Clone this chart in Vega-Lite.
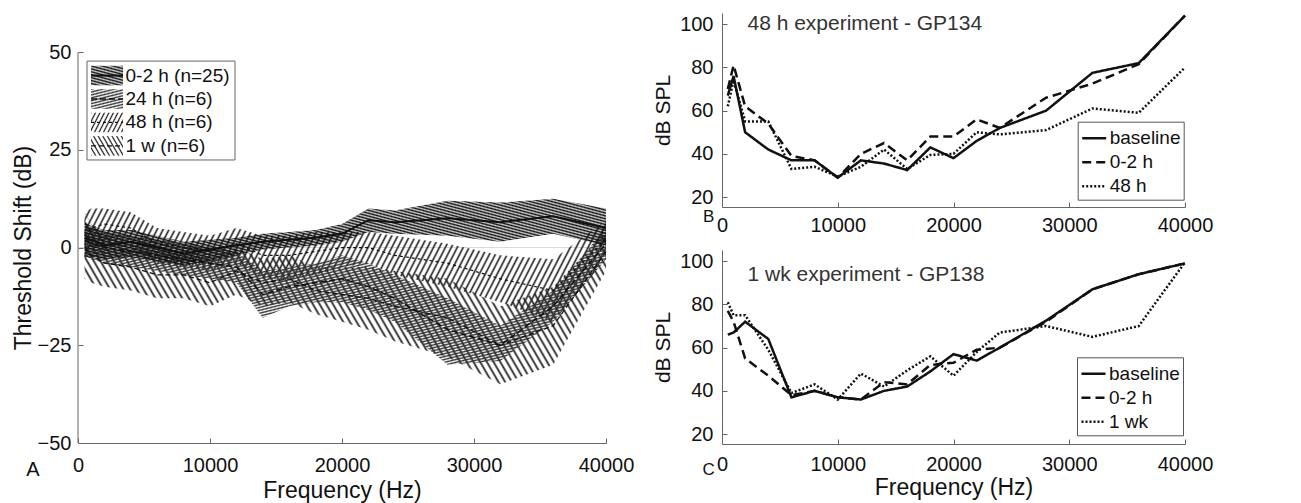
{
"$schema": "https://vega.github.io/schema/vega-lite/v6.json",
"background": "white",
"padding": {"left": 12, "top": 10, "right": 5, "bottom": 2},
"config": {
  "font": "Liberation Sans",
  "view": {"stroke": null},
  "axis": {"labelFontSize": 20, "labelColor": "#111", "titleFontSize": 23, "titleFontWeight": "normal", "titleColor": "#111", "domainColor": "#666", "tickColor": "#666", "tickSize": -5, "grid": false, "labelFlush": false, "labelOverlap": false}
},
"datasets": {
  "bands": [
    {"group":"0-2 h","freq":500,"mean":2.5,"lo":-2.5,"hi":6.5},
    {"group":"0-2 h","freq":1000,"mean":2,"lo":-2.5,"hi":5.5},
    {"group":"0-2 h","freq":2000,"mean":0.5,"lo":-3,"hi":4.5},
    {"group":"0-2 h","freq":4000,"mean":1.5,"lo":-2.5,"hi":4.5},
    {"group":"0-2 h","freq":6000,"mean":0,"lo":-3.5,"hi":3},
    {"group":"0-2 h","freq":8000,"mean":-1.5,"lo":-4.5,"hi":1.5},
    {"group":"0-2 h","freq":10000,"mean":-0.5,"lo":-3.5,"hi":2},
    {"group":"0-2 h","freq":12000,"mean":0.5,"lo":-2,"hi":2.5},
    {"group":"0-2 h","freq":14000,"mean":1.5,"lo":-0.5,"hi":3.5},
    {"group":"0-2 h","freq":16000,"mean":2,"lo":0,"hi":4},
    {"group":"0-2 h","freq":18000,"mean":2.5,"lo":0.5,"hi":4.5},
    {"group":"0-2 h","freq":20000,"mean":3.5,"lo":1.5,"hi":6},
    {"group":"0-2 h","freq":22000,"mean":7,"lo":4,"hi":10},
    {"group":"0-2 h","freq":24000,"mean":6.5,"lo":3.5,"hi":9.5},
    {"group":"0-2 h","freq":28000,"mean":7.5,"lo":3,"hi":12},
    {"group":"0-2 h","freq":32000,"mean":6.5,"lo":1.5,"hi":11.5},
    {"group":"0-2 h","freq":36000,"mean":8,"lo":3.5,"hi":12.5},
    {"group":"0-2 h","freq":40000,"mean":5,"lo":0.5,"hi":10},
    {"group":"24 h","freq":500,"mean":2,"lo":-2,"hi":6},
    {"group":"24 h","freq":1000,"mean":1,"lo":-3,"hi":5},
    {"group":"24 h","freq":2000,"mean":0,"lo":-4,"hi":4},
    {"group":"24 h","freq":4000,"mean":-1,"lo":-5,"hi":3},
    {"group":"24 h","freq":6000,"mean":-2,"lo":-6,"hi":2},
    {"group":"24 h","freq":8000,"mean":-3,"lo":-7,"hi":1},
    {"group":"24 h","freq":10000,"mean":-4,"lo":-8,"hi":0},
    {"group":"24 h","freq":12000,"mean":-5,"lo":-9,"hi":-1},
    {"group":"24 h","freq":14000,"mean":-12,"lo":-18,"hi":-6},
    {"group":"24 h","freq":16000,"mean":-10,"lo":-15,"hi":-5},
    {"group":"24 h","freq":18000,"mean":-9,"lo":-14,"hi":-4},
    {"group":"24 h","freq":20000,"mean":-8,"lo":-14,"hi":-2},
    {"group":"24 h","freq":22000,"mean":-10,"lo":-16,"hi":-4},
    {"group":"24 h","freq":24000,"mean":-13,"lo":-19,"hi":-7},
    {"group":"24 h","freq":28000,"mean":-21,"lo":-30,"hi":-13},
    {"group":"24 h","freq":32000,"mean":-25,"lo":-29,"hi":-20},
    {"group":"24 h","freq":36000,"mean":-15,"lo":-19,"hi":-11},
    {"group":"24 h","freq":40000,"mean":1,"lo":-3,"hi":5},
    {"group":"48 h","freq":500,"mean":3,"lo":-4,"hi":9},
    {"group":"48 h","freq":1000,"mean":5,"lo":-1,"hi":10},
    {"group":"48 h","freq":2000,"mean":6,"lo":1,"hi":10},
    {"group":"48 h","freq":4000,"mean":5,"lo":0,"hi":9},
    {"group":"48 h","freq":6000,"mean":1,"lo":-4,"hi":5},
    {"group":"48 h","freq":8000,"mean":0,"lo":-5,"hi":4},
    {"group":"48 h","freq":10000,"mean":-1,"lo":-6,"hi":3},
    {"group":"48 h","freq":12000,"mean":1,"lo":-4,"hi":5},
    {"group":"48 h","freq":14000,"mean":-2,"lo":-8,"hi":3},
    {"group":"48 h","freq":16000,"mean":-2,"lo":-8,"hi":3},
    {"group":"48 h","freq":18000,"mean":-1,"lo":-7,"hi":4},
    {"group":"48 h","freq":20000,"mean":0,"lo":-5,"hi":4},
    {"group":"48 h","freq":22000,"mean":0,"lo":-4,"hi":4},
    {"group":"48 h","freq":24000,"mean":-2,"lo":-7,"hi":3},
    {"group":"48 h","freq":28000,"mean":-4,"lo":-10,"hi":1},
    {"group":"48 h","freq":32000,"mean":-8,"lo":-14,"hi":-2},
    {"group":"48 h","freq":36000,"mean":-11,"lo":-19,"hi":-3},
    {"group":"48 h","freq":40000,"mean":2,"lo":-3,"hi":7},
    {"group":"1 w","freq":500,"mean":0,"lo":-8,"hi":9},
    {"group":"1 w","freq":1000,"mean":-2,"lo":-9,"hi":6},
    {"group":"1 w","freq":2000,"mean":-4,"lo":-10,"hi":3},
    {"group":"1 w","freq":4000,"mean":-5,"lo":-11,"hi":1},
    {"group":"1 w","freq":6000,"mean":-7,"lo":-13,"hi":-1},
    {"group":"1 w","freq":8000,"mean":-7,"lo":-13,"hi":-1},
    {"group":"1 w","freq":10000,"mean":-9,"lo":-15,"hi":-3},
    {"group":"1 w","freq":12000,"mean":-6,"lo":-12,"hi":0},
    {"group":"1 w","freq":14000,"mean":-9,"lo":-15,"hi":-3},
    {"group":"1 w","freq":16000,"mean":-8,"lo":-14,"hi":-2},
    {"group":"1 w","freq":18000,"mean":-11,"lo":-17,"hi":-5},
    {"group":"1 w","freq":20000,"mean":-12,"lo":-19,"hi":-5},
    {"group":"1 w","freq":22000,"mean":-13,"lo":-21,"hi":-5},
    {"group":"1 w","freq":24000,"mean":-15,"lo":-24,"hi":-6},
    {"group":"1 w","freq":28000,"mean":-18,"lo":-28,"hi":-8},
    {"group":"1 w","freq":32000,"mean":-25,"lo":-35,"hi":-15},
    {"group":"1 w","freq":36000,"mean":-20,"lo":-30,"hi":-10},
    {"group":"1 w","freq":40000,"mean":-1,"lo":-6,"hi":4}
  ],
  "abr": [
    {"panel":"B","series":"baseline","freq":500,"db":67},
    {"panel":"B","series":"baseline","freq":1000,"db":76},
    {"panel":"B","series":"baseline","freq":2000,"db":50},
    {"panel":"B","series":"baseline","freq":4000,"db":42},
    {"panel":"B","series":"baseline","freq":6000,"db":37},
    {"panel":"B","series":"baseline","freq":8000,"db":37},
    {"panel":"B","series":"baseline","freq":10000,"db":29},
    {"panel":"B","series":"baseline","freq":12000,"db":37},
    {"panel":"B","series":"baseline","freq":14000,"db":35.5},
    {"panel":"B","series":"baseline","freq":16000,"db":32.5},
    {"panel":"B","series":"baseline","freq":18000,"db":43},
    {"panel":"B","series":"baseline","freq":20000,"db":38},
    {"panel":"B","series":"baseline","freq":22000,"db":46},
    {"panel":"B","series":"baseline","freq":24000,"db":52},
    {"panel":"B","series":"baseline","freq":28000,"db":60},
    {"panel":"B","series":"baseline","freq":32000,"db":77.5},
    {"panel":"B","series":"baseline","freq":36000,"db":82},
    {"panel":"B","series":"baseline","freq":40000,"db":104},
    {"panel":"B","series":"0-2 h","freq":500,"db":70},
    {"panel":"B","series":"0-2 h","freq":1000,"db":81},
    {"panel":"B","series":"0-2 h","freq":2000,"db":62},
    {"panel":"B","series":"0-2 h","freq":4000,"db":54},
    {"panel":"B","series":"0-2 h","freq":6000,"db":39},
    {"panel":"B","series":"0-2 h","freq":8000,"db":37},
    {"panel":"B","series":"0-2 h","freq":10000,"db":29},
    {"panel":"B","series":"0-2 h","freq":12000,"db":40},
    {"panel":"B","series":"0-2 h","freq":14000,"db":45},
    {"panel":"B","series":"0-2 h","freq":16000,"db":37},
    {"panel":"B","series":"0-2 h","freq":18000,"db":48},
    {"panel":"B","series":"0-2 h","freq":20000,"db":48},
    {"panel":"B","series":"0-2 h","freq":22000,"db":56},
    {"panel":"B","series":"0-2 h","freq":24000,"db":52},
    {"panel":"B","series":"0-2 h","freq":28000,"db":66},
    {"panel":"B","series":"0-2 h","freq":32000,"db":72.5},
    {"panel":"B","series":"0-2 h","freq":36000,"db":81.5},
    {"panel":"B","series":"0-2 h","freq":40000,"db":104},
    {"panel":"B","series":"48 h","freq":500,"db":62},
    {"panel":"B","series":"48 h","freq":1000,"db":74},
    {"panel":"B","series":"48 h","freq":2000,"db":55},
    {"panel":"B","series":"48 h","freq":4000,"db":55},
    {"panel":"B","series":"48 h","freq":6000,"db":33},
    {"panel":"B","series":"48 h","freq":8000,"db":34},
    {"panel":"B","series":"48 h","freq":10000,"db":29.5},
    {"panel":"B","series":"48 h","freq":12000,"db":34},
    {"panel":"B","series":"48 h","freq":14000,"db":42},
    {"panel":"B","series":"48 h","freq":16000,"db":33},
    {"panel":"B","series":"48 h","freq":18000,"db":39.5},
    {"panel":"B","series":"48 h","freq":20000,"db":40},
    {"panel":"B","series":"48 h","freq":22000,"db":50},
    {"panel":"B","series":"48 h","freq":24000,"db":49},
    {"panel":"B","series":"48 h","freq":28000,"db":51},
    {"panel":"B","series":"48 h","freq":32000,"db":61},
    {"panel":"B","series":"48 h","freq":36000,"db":59},
    {"panel":"B","series":"48 h","freq":40000,"db":80},
    {"panel":"C","series":"baseline","freq":500,"db":66},
    {"panel":"C","series":"baseline","freq":1000,"db":67},
    {"panel":"C","series":"baseline","freq":2000,"db":72},
    {"panel":"C","series":"baseline","freq":4000,"db":64},
    {"panel":"C","series":"baseline","freq":6000,"db":37},
    {"panel":"C","series":"baseline","freq":8000,"db":40},
    {"panel":"C","series":"baseline","freq":10000,"db":37},
    {"panel":"C","series":"baseline","freq":12000,"db":36},
    {"panel":"C","series":"baseline","freq":14000,"db":40},
    {"panel":"C","series":"baseline","freq":16000,"db":42},
    {"panel":"C","series":"baseline","freq":18000,"db":49},
    {"panel":"C","series":"baseline","freq":20000,"db":57},
    {"panel":"C","series":"baseline","freq":22000,"db":54},
    {"panel":"C","series":"baseline","freq":24000,"db":60},
    {"panel":"C","series":"baseline","freq":28000,"db":72.5},
    {"panel":"C","series":"baseline","freq":32000,"db":87},
    {"panel":"C","series":"baseline","freq":36000,"db":94},
    {"panel":"C","series":"baseline","freq":40000,"db":99},
    {"panel":"C","series":"0-2 h","freq":500,"db":77},
    {"panel":"C","series":"0-2 h","freq":1000,"db":72},
    {"panel":"C","series":"0-2 h","freq":2000,"db":55},
    {"panel":"C","series":"0-2 h","freq":4000,"db":47},
    {"panel":"C","series":"0-2 h","freq":6000,"db":38},
    {"panel":"C","series":"0-2 h","freq":8000,"db":40},
    {"panel":"C","series":"0-2 h","freq":10000,"db":37},
    {"panel":"C","series":"0-2 h","freq":12000,"db":36},
    {"panel":"C","series":"0-2 h","freq":14000,"db":44},
    {"panel":"C","series":"0-2 h","freq":16000,"db":43},
    {"panel":"C","series":"0-2 h","freq":18000,"db":52},
    {"panel":"C","series":"0-2 h","freq":20000,"db":53},
    {"panel":"C","series":"0-2 h","freq":22000,"db":59},
    {"panel":"C","series":"0-2 h","freq":24000,"db":60},
    {"panel":"C","series":"0-2 h","freq":28000,"db":72},
    {"panel":"C","series":"0-2 h","freq":32000,"db":87},
    {"panel":"C","series":"0-2 h","freq":36000,"db":94},
    {"panel":"C","series":"0-2 h","freq":40000,"db":99},
    {"panel":"C","series":"1 wk","freq":500,"db":81},
    {"panel":"C","series":"1 wk","freq":1000,"db":75},
    {"panel":"C","series":"1 wk","freq":2000,"db":75},
    {"panel":"C","series":"1 wk","freq":4000,"db":59},
    {"panel":"C","series":"1 wk","freq":6000,"db":39},
    {"panel":"C","series":"1 wk","freq":8000,"db":43},
    {"panel":"C","series":"1 wk","freq":10000,"db":36},
    {"panel":"C","series":"1 wk","freq":12000,"db":48},
    {"panel":"C","series":"1 wk","freq":14000,"db":42},
    {"panel":"C","series":"1 wk","freq":16000,"db":49.5},
    {"panel":"C","series":"1 wk","freq":18000,"db":56},
    {"panel":"C","series":"1 wk","freq":20000,"db":47},
    {"panel":"C","series":"1 wk","freq":22000,"db":58},
    {"panel":"C","series":"1 wk","freq":24000,"db":67},
    {"panel":"C","series":"1 wk","freq":28000,"db":70},
    {"panel":"C","series":"1 wk","freq":32000,"db":65},
    {"panel":"C","series":"1 wk","freq":36000,"db":70},
    {"panel":"C","series":"1 wk","freq":40000,"db":99.5}
  ]
},
"spacing": 18,
"resolve": {"scale": {"strokeDash": "independent"}, "legend": {"strokeDash": "independent"}},
"hconcat": [
{
  "width": 528, "height": 430,
  "layer": [
    {"data": {"name": "bands"}, "transform": [{"filter": "datum.group === '1 w'"}],
     "mark": {"type": "area", "opacity": 1, "fill": {"gradient": "linear", "x1": 0, "y1": 1, "x2": 1.2395, "y2": 0.7639, "stops": [
{"offset":0,"color":"#222"},{"offset":0.003,"color":"#2220"},{"offset":0.007,"color":"#2220"},
{"offset":0.01,"color":"#222"},{"offset":0.013,"color":"#2220"},{"offset":0.017,"color":"#2220"},
{"offset":0.02,"color":"#222"},{"offset":0.023,"color":"#2220"},{"offset":0.027,"color":"#2220"},
{"offset":0.03,"color":"#222"},{"offset":0.033,"color":"#2220"},{"offset":0.037,"color":"#2220"},
{"offset":0.04,"color":"#222"},{"offset":0.043,"color":"#2220"},{"offset":0.047,"color":"#2220"},
{"offset":0.05,"color":"#222"},{"offset":0.053,"color":"#2220"},{"offset":0.057,"color":"#2220"},
{"offset":0.06,"color":"#222"},{"offset":0.063,"color":"#2220"},{"offset":0.067,"color":"#2220"},
{"offset":0.07,"color":"#222"},{"offset":0.073,"color":"#2220"},{"offset":0.077,"color":"#2220"},
{"offset":0.08,"color":"#222"},{"offset":0.083,"color":"#2220"},{"offset":0.087,"color":"#2220"},
{"offset":0.09,"color":"#222"},{"offset":0.093,"color":"#2220"},{"offset":0.097,"color":"#2220"},
{"offset":0.1,"color":"#222"},{"offset":0.103,"color":"#2220"},{"offset":0.107,"color":"#2220"},
{"offset":0.11,"color":"#222"},{"offset":0.113,"color":"#2220"},{"offset":0.117,"color":"#2220"},
{"offset":0.12,"color":"#222"},{"offset":0.123,"color":"#2220"},{"offset":0.127,"color":"#2220"},
{"offset":0.13,"color":"#222"},{"offset":0.133,"color":"#2220"},{"offset":0.137,"color":"#2220"},
{"offset":0.14,"color":"#222"},{"offset":0.143,"color":"#2220"},{"offset":0.147,"color":"#2220"},
{"offset":0.15,"color":"#222"},{"offset":0.153,"color":"#2220"},{"offset":0.157,"color":"#2220"},
{"offset":0.16,"color":"#222"},{"offset":0.163,"color":"#2220"},{"offset":0.167,"color":"#2220"},
{"offset":0.17,"color":"#222"},{"offset":0.173,"color":"#2220"},{"offset":0.177,"color":"#2220"},
{"offset":0.18,"color":"#222"},{"offset":0.183,"color":"#2220"},{"offset":0.187,"color":"#2220"},
{"offset":0.19,"color":"#222"},{"offset":0.193,"color":"#2220"},{"offset":0.197,"color":"#2220"},
{"offset":0.2,"color":"#222"},{"offset":0.203,"color":"#2220"},{"offset":0.207,"color":"#2220"},
{"offset":0.21,"color":"#222"},{"offset":0.213,"color":"#2220"},{"offset":0.217,"color":"#2220"},
{"offset":0.22,"color":"#222"},{"offset":0.223,"color":"#2220"},{"offset":0.227,"color":"#2220"},
{"offset":0.23,"color":"#222"},{"offset":0.233,"color":"#2220"},{"offset":0.237,"color":"#2220"},
{"offset":0.24,"color":"#222"},{"offset":0.243,"color":"#2220"},{"offset":0.247,"color":"#2220"},
{"offset":0.25,"color":"#222"},{"offset":0.253,"color":"#2220"},{"offset":0.257,"color":"#2220"},
{"offset":0.26,"color":"#222"},{"offset":0.263,"color":"#2220"},{"offset":0.267,"color":"#2220"},
{"offset":0.27,"color":"#222"},{"offset":0.273,"color":"#2220"},{"offset":0.277,"color":"#2220"},
{"offset":0.28,"color":"#222"},{"offset":0.283,"color":"#2220"},{"offset":0.287,"color":"#2220"},
{"offset":0.29,"color":"#222"},{"offset":0.293,"color":"#2220"},{"offset":0.297,"color":"#2220"},
{"offset":0.3,"color":"#222"},{"offset":0.303,"color":"#2220"},{"offset":0.307,"color":"#2220"},
{"offset":0.31,"color":"#222"},{"offset":0.313,"color":"#2220"},{"offset":0.317,"color":"#2220"},
{"offset":0.32,"color":"#222"},{"offset":0.323,"color":"#2220"},{"offset":0.327,"color":"#2220"},
{"offset":0.33,"color":"#222"},{"offset":0.333,"color":"#2220"},{"offset":0.337,"color":"#2220"},
{"offset":0.34,"color":"#222"},{"offset":0.343,"color":"#2220"},{"offset":0.347,"color":"#2220"},
{"offset":0.35,"color":"#222"},{"offset":0.353,"color":"#2220"},{"offset":0.357,"color":"#2220"},
{"offset":0.36,"color":"#222"},{"offset":0.363,"color":"#2220"},{"offset":0.367,"color":"#2220"},
{"offset":0.37,"color":"#222"},{"offset":0.373,"color":"#2220"},{"offset":0.377,"color":"#2220"},
{"offset":0.38,"color":"#222"},{"offset":0.383,"color":"#2220"},{"offset":0.387,"color":"#2220"},
{"offset":0.39,"color":"#222"},{"offset":0.393,"color":"#2220"},{"offset":0.397,"color":"#2220"},
{"offset":0.4,"color":"#222"},{"offset":0.403,"color":"#2220"},{"offset":0.407,"color":"#2220"},
{"offset":0.41,"color":"#222"},{"offset":0.413,"color":"#2220"},{"offset":0.417,"color":"#2220"},
{"offset":0.42,"color":"#222"},{"offset":0.423,"color":"#2220"},{"offset":0.427,"color":"#2220"},
{"offset":0.43,"color":"#222"},{"offset":0.433,"color":"#2220"},{"offset":0.437,"color":"#2220"},
{"offset":0.44,"color":"#222"},{"offset":0.443,"color":"#2220"},{"offset":0.447,"color":"#2220"},
{"offset":0.45,"color":"#222"},{"offset":0.453,"color":"#2220"},{"offset":0.457,"color":"#2220"},
{"offset":0.46,"color":"#222"},{"offset":0.463,"color":"#2220"},{"offset":0.467,"color":"#2220"},
{"offset":0.47,"color":"#222"},{"offset":0.473,"color":"#2220"},{"offset":0.477,"color":"#2220"},
{"offset":0.48,"color":"#222"},{"offset":0.483,"color":"#2220"},{"offset":0.487,"color":"#2220"},
{"offset":0.49,"color":"#222"},{"offset":0.493,"color":"#2220"},{"offset":0.497,"color":"#2220"},
{"offset":0.5,"color":"#222"},{"offset":0.503,"color":"#2220"},{"offset":0.507,"color":"#2220"},
{"offset":0.51,"color":"#222"},{"offset":0.513,"color":"#2220"},{"offset":0.517,"color":"#2220"},
{"offset":0.52,"color":"#222"},{"offset":0.523,"color":"#2220"},{"offset":0.527,"color":"#2220"},
{"offset":0.53,"color":"#222"},{"offset":0.533,"color":"#2220"},{"offset":0.537,"color":"#2220"},
{"offset":0.54,"color":"#222"},{"offset":0.543,"color":"#2220"},{"offset":0.547,"color":"#2220"},
{"offset":0.55,"color":"#222"},{"offset":0.553,"color":"#2220"},{"offset":0.557,"color":"#2220"},
{"offset":0.56,"color":"#222"},{"offset":0.563,"color":"#2220"},{"offset":0.567,"color":"#2220"},
{"offset":0.57,"color":"#222"},{"offset":0.573,"color":"#2220"},{"offset":0.577,"color":"#2220"},
{"offset":0.58,"color":"#222"},{"offset":0.583,"color":"#2220"},{"offset":0.587,"color":"#2220"},
{"offset":0.59,"color":"#222"},{"offset":0.593,"color":"#2220"},{"offset":0.597,"color":"#2220"},
{"offset":0.6,"color":"#222"},{"offset":0.603,"color":"#2220"},{"offset":0.607,"color":"#2220"},
{"offset":0.61,"color":"#222"},{"offset":0.613,"color":"#2220"},{"offset":0.617,"color":"#2220"},
{"offset":0.62,"color":"#222"},{"offset":0.623,"color":"#2220"},{"offset":0.627,"color":"#2220"},
{"offset":0.63,"color":"#222"},{"offset":0.633,"color":"#2220"},{"offset":0.637,"color":"#2220"},
{"offset":0.64,"color":"#222"},{"offset":0.643,"color":"#2220"},{"offset":0.647,"color":"#2220"},
{"offset":0.65,"color":"#222"},{"offset":0.653,"color":"#2220"},{"offset":0.657,"color":"#2220"},
{"offset":0.66,"color":"#222"},{"offset":0.663,"color":"#2220"},{"offset":0.667,"color":"#2220"},
{"offset":0.67,"color":"#222"},{"offset":0.673,"color":"#2220"},{"offset":0.677,"color":"#2220"},
{"offset":0.68,"color":"#222"},{"offset":0.683,"color":"#2220"},{"offset":0.687,"color":"#2220"},
{"offset":0.69,"color":"#222"},{"offset":0.693,"color":"#2220"},{"offset":0.697,"color":"#2220"},
{"offset":0.7,"color":"#222"},{"offset":0.703,"color":"#2220"},{"offset":0.707,"color":"#2220"},
{"offset":0.71,"color":"#222"},{"offset":0.713,"color":"#2220"},{"offset":0.717,"color":"#2220"},
{"offset":0.72,"color":"#222"},{"offset":0.723,"color":"#2220"},{"offset":0.727,"color":"#2220"},
{"offset":0.73,"color":"#222"},{"offset":0.733,"color":"#2220"},{"offset":0.737,"color":"#2220"},
{"offset":0.74,"color":"#222"},{"offset":0.743,"color":"#2220"},{"offset":0.747,"color":"#2220"},
{"offset":0.75,"color":"#222"},{"offset":0.753,"color":"#2220"},{"offset":0.757,"color":"#2220"},
{"offset":0.76,"color":"#222"},{"offset":0.763,"color":"#2220"},{"offset":0.767,"color":"#2220"},
{"offset":0.77,"color":"#222"},{"offset":0.773,"color":"#2220"},{"offset":0.777,"color":"#2220"},
{"offset":0.78,"color":"#222"},{"offset":0.783,"color":"#2220"},{"offset":0.787,"color":"#2220"},
{"offset":0.79,"color":"#222"},{"offset":0.793,"color":"#2220"},{"offset":0.797,"color":"#2220"},
{"offset":0.8,"color":"#222"},{"offset":0.803,"color":"#2220"},{"offset":0.807,"color":"#2220"},
{"offset":0.81,"color":"#222"},{"offset":0.813,"color":"#2220"},{"offset":0.817,"color":"#2220"},
{"offset":0.82,"color":"#222"},{"offset":0.823,"color":"#2220"},{"offset":0.827,"color":"#2220"},
{"offset":0.83,"color":"#222"},{"offset":0.833,"color":"#2220"},{"offset":0.837,"color":"#2220"},
{"offset":0.84,"color":"#222"},{"offset":0.843,"color":"#2220"},{"offset":0.847,"color":"#2220"},
{"offset":0.85,"color":"#222"},{"offset":0.853,"color":"#2220"},{"offset":0.857,"color":"#2220"},
{"offset":0.86,"color":"#222"},{"offset":0.863,"color":"#2220"},{"offset":0.867,"color":"#2220"},
{"offset":0.87,"color":"#222"},{"offset":0.873,"color":"#2220"},{"offset":0.877,"color":"#2220"},
{"offset":0.88,"color":"#222"},{"offset":0.883,"color":"#2220"},{"offset":0.887,"color":"#2220"},
{"offset":0.89,"color":"#222"},{"offset":0.893,"color":"#2220"},{"offset":0.897,"color":"#2220"},
{"offset":0.9,"color":"#222"},{"offset":0.903,"color":"#2220"},{"offset":0.907,"color":"#2220"},
{"offset":0.91,"color":"#222"},{"offset":0.913,"color":"#2220"},{"offset":0.917,"color":"#2220"},
{"offset":0.92,"color":"#222"},{"offset":0.923,"color":"#2220"},{"offset":0.927,"color":"#2220"},
{"offset":0.93,"color":"#222"}
     ]}},
     "encoding": {
       "x": {"field": "freq", "type": "quantitative", "scale": {"domain": [0, 40000], "nice": false},
             "axis": {"values": [0, 10000, 20000, 30000, 40000], "format": "d", "title": "Frequency (Hz)", "labelPadding": 17.5, "titleBaseline": "alphabetic", "titleY": 54}},
       "y": {"field": "lo", "type": "quantitative", "scale": {"domain": [-50, 60], "nice": false, "zero": false},
             "axis": {"values": [-50, -25, 0, 25, 50], "domain": false, "title": "Threshold Shift (dB)", "labelPadding": 12, "titleX": -48, "titleY": 234.5, "titleBaseline": "alphabetic"}},
       "y2": {"field": "hi"}
     }},
    {"data": {"values": [{}]}, "mark": {"type": "rule", "color": "#d9d9d9", "strokeWidth": 1},
     "encoding": {"x": {"datum": 0, "type": "quantitative"}, "x2": {"datum": 40000}, "y": {"datum": 0, "type": "quantitative"}}},
    {"data": {"name": "bands"}, "transform": [{"filter": "datum.group === '48 h'"}],
     "mark": {"type": "area", "opacity": 1, "fill": {"gradient": "linear", "x1": 0, "y1": 0, "x2": 1.1268, "y2": 0.1249, "stops": [
{"offset":0,"color":"#222"},{"offset":0.003,"color":"#2220"},{"offset":0.007,"color":"#2220"},
{"offset":0.01,"color":"#222"},{"offset":0.013,"color":"#2220"},{"offset":0.017,"color":"#2220"},
{"offset":0.02,"color":"#222"},{"offset":0.023,"color":"#2220"},{"offset":0.027,"color":"#2220"},
{"offset":0.03,"color":"#222"},{"offset":0.033,"color":"#2220"},{"offset":0.037,"color":"#2220"},
{"offset":0.04,"color":"#222"},{"offset":0.043,"color":"#2220"},{"offset":0.047,"color":"#2220"},
{"offset":0.05,"color":"#222"},{"offset":0.053,"color":"#2220"},{"offset":0.057,"color":"#2220"},
{"offset":0.06,"color":"#222"},{"offset":0.063,"color":"#2220"},{"offset":0.067,"color":"#2220"},
{"offset":0.07,"color":"#222"},{"offset":0.073,"color":"#2220"},{"offset":0.077,"color":"#2220"},
{"offset":0.08,"color":"#222"},{"offset":0.083,"color":"#2220"},{"offset":0.087,"color":"#2220"},
{"offset":0.09,"color":"#222"},{"offset":0.093,"color":"#2220"},{"offset":0.097,"color":"#2220"},
{"offset":0.1,"color":"#222"},{"offset":0.103,"color":"#2220"},{"offset":0.107,"color":"#2220"},
{"offset":0.11,"color":"#222"},{"offset":0.113,"color":"#2220"},{"offset":0.117,"color":"#2220"},
{"offset":0.12,"color":"#222"},{"offset":0.123,"color":"#2220"},{"offset":0.127,"color":"#2220"},
{"offset":0.13,"color":"#222"},{"offset":0.133,"color":"#2220"},{"offset":0.137,"color":"#2220"},
{"offset":0.14,"color":"#222"},{"offset":0.143,"color":"#2220"},{"offset":0.147,"color":"#2220"},
{"offset":0.15,"color":"#222"},{"offset":0.153,"color":"#2220"},{"offset":0.157,"color":"#2220"},
{"offset":0.16,"color":"#222"},{"offset":0.163,"color":"#2220"},{"offset":0.167,"color":"#2220"},
{"offset":0.17,"color":"#222"},{"offset":0.173,"color":"#2220"},{"offset":0.177,"color":"#2220"},
{"offset":0.18,"color":"#222"},{"offset":0.183,"color":"#2220"},{"offset":0.187,"color":"#2220"},
{"offset":0.19,"color":"#222"},{"offset":0.193,"color":"#2220"},{"offset":0.197,"color":"#2220"},
{"offset":0.2,"color":"#222"},{"offset":0.203,"color":"#2220"},{"offset":0.207,"color":"#2220"},
{"offset":0.21,"color":"#222"},{"offset":0.213,"color":"#2220"},{"offset":0.217,"color":"#2220"},
{"offset":0.22,"color":"#222"},{"offset":0.223,"color":"#2220"},{"offset":0.227,"color":"#2220"},
{"offset":0.23,"color":"#222"},{"offset":0.233,"color":"#2220"},{"offset":0.237,"color":"#2220"},
{"offset":0.24,"color":"#222"},{"offset":0.243,"color":"#2220"},{"offset":0.247,"color":"#2220"},
{"offset":0.25,"color":"#222"},{"offset":0.253,"color":"#2220"},{"offset":0.257,"color":"#2220"},
{"offset":0.26,"color":"#222"},{"offset":0.263,"color":"#2220"},{"offset":0.267,"color":"#2220"},
{"offset":0.27,"color":"#222"},{"offset":0.273,"color":"#2220"},{"offset":0.277,"color":"#2220"},
{"offset":0.28,"color":"#222"},{"offset":0.283,"color":"#2220"},{"offset":0.287,"color":"#2220"},
{"offset":0.29,"color":"#222"},{"offset":0.293,"color":"#2220"},{"offset":0.297,"color":"#2220"},
{"offset":0.3,"color":"#222"},{"offset":0.303,"color":"#2220"},{"offset":0.307,"color":"#2220"},
{"offset":0.31,"color":"#222"},{"offset":0.313,"color":"#2220"},{"offset":0.317,"color":"#2220"},
{"offset":0.32,"color":"#222"},{"offset":0.323,"color":"#2220"},{"offset":0.327,"color":"#2220"},
{"offset":0.33,"color":"#222"},{"offset":0.333,"color":"#2220"},{"offset":0.337,"color":"#2220"},
{"offset":0.34,"color":"#222"},{"offset":0.343,"color":"#2220"},{"offset":0.347,"color":"#2220"},
{"offset":0.35,"color":"#222"},{"offset":0.353,"color":"#2220"},{"offset":0.357,"color":"#2220"},
{"offset":0.36,"color":"#222"},{"offset":0.363,"color":"#2220"},{"offset":0.367,"color":"#2220"},
{"offset":0.37,"color":"#222"},{"offset":0.373,"color":"#2220"},{"offset":0.377,"color":"#2220"},
{"offset":0.38,"color":"#222"},{"offset":0.383,"color":"#2220"},{"offset":0.387,"color":"#2220"},
{"offset":0.39,"color":"#222"},{"offset":0.393,"color":"#2220"},{"offset":0.397,"color":"#2220"},
{"offset":0.4,"color":"#222"},{"offset":0.403,"color":"#2220"},{"offset":0.407,"color":"#2220"},
{"offset":0.41,"color":"#222"},{"offset":0.413,"color":"#2220"},{"offset":0.417,"color":"#2220"},
{"offset":0.42,"color":"#222"},{"offset":0.423,"color":"#2220"},{"offset":0.427,"color":"#2220"},
{"offset":0.43,"color":"#222"},{"offset":0.433,"color":"#2220"},{"offset":0.437,"color":"#2220"},
{"offset":0.44,"color":"#222"},{"offset":0.443,"color":"#2220"},{"offset":0.447,"color":"#2220"},
{"offset":0.45,"color":"#222"},{"offset":0.453,"color":"#2220"},{"offset":0.457,"color":"#2220"},
{"offset":0.46,"color":"#222"},{"offset":0.463,"color":"#2220"},{"offset":0.467,"color":"#2220"},
{"offset":0.47,"color":"#222"},{"offset":0.473,"color":"#2220"},{"offset":0.477,"color":"#2220"},
{"offset":0.48,"color":"#222"},{"offset":0.483,"color":"#2220"},{"offset":0.487,"color":"#2220"},
{"offset":0.49,"color":"#222"},{"offset":0.493,"color":"#2220"},{"offset":0.497,"color":"#2220"},
{"offset":0.5,"color":"#222"},{"offset":0.503,"color":"#2220"},{"offset":0.507,"color":"#2220"},
{"offset":0.51,"color":"#222"},{"offset":0.513,"color":"#2220"},{"offset":0.517,"color":"#2220"},
{"offset":0.52,"color":"#222"},{"offset":0.523,"color":"#2220"},{"offset":0.527,"color":"#2220"},
{"offset":0.53,"color":"#222"},{"offset":0.533,"color":"#2220"},{"offset":0.537,"color":"#2220"},
{"offset":0.54,"color":"#222"},{"offset":0.543,"color":"#2220"},{"offset":0.547,"color":"#2220"},
{"offset":0.55,"color":"#222"},{"offset":0.553,"color":"#2220"},{"offset":0.557,"color":"#2220"},
{"offset":0.56,"color":"#222"},{"offset":0.563,"color":"#2220"},{"offset":0.567,"color":"#2220"},
{"offset":0.57,"color":"#222"},{"offset":0.573,"color":"#2220"},{"offset":0.577,"color":"#2220"},
{"offset":0.58,"color":"#222"},{"offset":0.583,"color":"#2220"},{"offset":0.587,"color":"#2220"},
{"offset":0.59,"color":"#222"},{"offset":0.593,"color":"#2220"},{"offset":0.597,"color":"#2220"},
{"offset":0.6,"color":"#222"},{"offset":0.603,"color":"#2220"},{"offset":0.607,"color":"#2220"},
{"offset":0.61,"color":"#222"},{"offset":0.613,"color":"#2220"},{"offset":0.617,"color":"#2220"},
{"offset":0.62,"color":"#222"},{"offset":0.623,"color":"#2220"},{"offset":0.627,"color":"#2220"},
{"offset":0.63,"color":"#222"},{"offset":0.633,"color":"#2220"},{"offset":0.637,"color":"#2220"},
{"offset":0.64,"color":"#222"},{"offset":0.643,"color":"#2220"},{"offset":0.647,"color":"#2220"},
{"offset":0.65,"color":"#222"},{"offset":0.653,"color":"#2220"},{"offset":0.657,"color":"#2220"},
{"offset":0.66,"color":"#222"},{"offset":0.663,"color":"#2220"},{"offset":0.667,"color":"#2220"},
{"offset":0.67,"color":"#222"},{"offset":0.673,"color":"#2220"},{"offset":0.677,"color":"#2220"},
{"offset":0.68,"color":"#222"},{"offset":0.683,"color":"#2220"},{"offset":0.687,"color":"#2220"},
{"offset":0.69,"color":"#222"},{"offset":0.693,"color":"#2220"},{"offset":0.697,"color":"#2220"},
{"offset":0.7,"color":"#222"},{"offset":0.703,"color":"#2220"},{"offset":0.707,"color":"#2220"},
{"offset":0.71,"color":"#222"},{"offset":0.713,"color":"#2220"},{"offset":0.717,"color":"#2220"},
{"offset":0.72,"color":"#222"},{"offset":0.723,"color":"#2220"},{"offset":0.727,"color":"#2220"},
{"offset":0.73,"color":"#222"},{"offset":0.733,"color":"#2220"},{"offset":0.737,"color":"#2220"},
{"offset":0.74,"color":"#222"},{"offset":0.743,"color":"#2220"},{"offset":0.747,"color":"#2220"},
{"offset":0.75,"color":"#222"},{"offset":0.753,"color":"#2220"},{"offset":0.757,"color":"#2220"},
{"offset":0.76,"color":"#222"},{"offset":0.763,"color":"#2220"},{"offset":0.767,"color":"#2220"},
{"offset":0.77,"color":"#222"},{"offset":0.773,"color":"#2220"},{"offset":0.777,"color":"#2220"},
{"offset":0.78,"color":"#222"},{"offset":0.783,"color":"#2220"},{"offset":0.787,"color":"#2220"},
{"offset":0.79,"color":"#222"},{"offset":0.793,"color":"#2220"},{"offset":0.797,"color":"#2220"},
{"offset":0.8,"color":"#222"},{"offset":0.803,"color":"#2220"},{"offset":0.807,"color":"#2220"},
{"offset":0.81,"color":"#222"},{"offset":0.813,"color":"#2220"},{"offset":0.817,"color":"#2220"},
{"offset":0.82,"color":"#222"},{"offset":0.823,"color":"#2220"},{"offset":0.827,"color":"#2220"},
{"offset":0.83,"color":"#222"},{"offset":0.833,"color":"#2220"},{"offset":0.837,"color":"#2220"},
{"offset":0.84,"color":"#222"},{"offset":0.843,"color":"#2220"},{"offset":0.847,"color":"#2220"},
{"offset":0.85,"color":"#222"},{"offset":0.853,"color":"#2220"},{"offset":0.857,"color":"#2220"},
{"offset":0.86,"color":"#222"},{"offset":0.863,"color":"#2220"},{"offset":0.867,"color":"#2220"},
{"offset":0.87,"color":"#222"},{"offset":0.873,"color":"#2220"},{"offset":0.877,"color":"#2220"},
{"offset":0.88,"color":"#222"},{"offset":0.883,"color":"#2220"},{"offset":0.887,"color":"#2220"},
{"offset":0.89,"color":"#222"},{"offset":0.893,"color":"#2220"},{"offset":0.897,"color":"#2220"},
{"offset":0.9,"color":"#222"},{"offset":0.903,"color":"#2220"},{"offset":0.907,"color":"#2220"},
{"offset":0.91,"color":"#222"},{"offset":0.913,"color":"#2220"},{"offset":0.917,"color":"#2220"},
{"offset":0.92,"color":"#222"},{"offset":0.923,"color":"#2220"},{"offset":0.927,"color":"#2220"},
{"offset":0.93,"color":"#222"},{"offset":0.933,"color":"#2220"},{"offset":0.937,"color":"#2220"},
{"offset":0.94,"color":"#222"},{"offset":0.943,"color":"#2220"},{"offset":0.947,"color":"#2220"},
{"offset":0.95,"color":"#222"},{"offset":0.953,"color":"#2220"},{"offset":0.957,"color":"#2220"},
{"offset":0.96,"color":"#222"},{"offset":0.963,"color":"#2220"},{"offset":0.967,"color":"#2220"},
{"offset":0.97,"color":"#222"},{"offset":0.973,"color":"#2220"},{"offset":0.977,"color":"#2220"},
{"offset":0.98,"color":"#222"}
     ]}},
     "encoding": {"x": {"field": "freq", "type": "quantitative"}, "y": {"field": "lo", "type": "quantitative"}, "y2": {"field": "hi"}}},
    {"data": {"name": "bands"}, "transform": [{"filter": "datum.group === '24 h'"}],
     "mark": {"type": "area", "opacity": 1, "fill": {"gradient": "linear", "x1": 0, "y1": 0, "x2": 1.0225, "y2": 1.106, "stops": [
{"offset":0,"color":"#333"},{"offset":0.005,"color":"#3330"},{"offset":0.01,"color":"#333"},{"offset":0.015,"color":"#3330"},
{"offset":0.02,"color":"#333"},{"offset":0.025,"color":"#3330"},{"offset":0.03,"color":"#333"},{"offset":0.035,"color":"#3330"},
{"offset":0.04,"color":"#333"},{"offset":0.045,"color":"#3330"},{"offset":0.05,"color":"#333"},{"offset":0.055,"color":"#3330"},
{"offset":0.06,"color":"#333"},{"offset":0.065,"color":"#3330"},{"offset":0.07,"color":"#333"},{"offset":0.075,"color":"#3330"},
{"offset":0.08,"color":"#333"},{"offset":0.085,"color":"#3330"},{"offset":0.09,"color":"#333"},{"offset":0.095,"color":"#3330"},
{"offset":0.1,"color":"#333"},{"offset":0.105,"color":"#3330"},{"offset":0.11,"color":"#333"},{"offset":0.115,"color":"#3330"},
{"offset":0.12,"color":"#333"},{"offset":0.125,"color":"#3330"},{"offset":0.13,"color":"#333"},{"offset":0.135,"color":"#3330"},
{"offset":0.14,"color":"#333"},{"offset":0.145,"color":"#3330"},{"offset":0.15,"color":"#333"},{"offset":0.155,"color":"#3330"},
{"offset":0.16,"color":"#333"},{"offset":0.165,"color":"#3330"},{"offset":0.17,"color":"#333"},{"offset":0.175,"color":"#3330"},
{"offset":0.18,"color":"#333"},{"offset":0.185,"color":"#3330"},{"offset":0.19,"color":"#333"},{"offset":0.195,"color":"#3330"},
{"offset":0.2,"color":"#333"},{"offset":0.205,"color":"#3330"},{"offset":0.21,"color":"#333"},{"offset":0.215,"color":"#3330"},
{"offset":0.22,"color":"#333"},{"offset":0.225,"color":"#3330"},{"offset":0.23,"color":"#333"},{"offset":0.235,"color":"#3330"},
{"offset":0.24,"color":"#333"},{"offset":0.245,"color":"#3330"},{"offset":0.25,"color":"#333"},{"offset":0.255,"color":"#3330"},
{"offset":0.26,"color":"#333"},{"offset":0.265,"color":"#3330"},{"offset":0.27,"color":"#333"},{"offset":0.275,"color":"#3330"},
{"offset":0.28,"color":"#333"},{"offset":0.285,"color":"#3330"},{"offset":0.29,"color":"#333"},{"offset":0.295,"color":"#3330"},
{"offset":0.3,"color":"#333"},{"offset":0.305,"color":"#3330"},{"offset":0.31,"color":"#333"},{"offset":0.315,"color":"#3330"},
{"offset":0.32,"color":"#333"},{"offset":0.325,"color":"#3330"},{"offset":0.33,"color":"#333"},{"offset":0.335,"color":"#3330"},
{"offset":0.34,"color":"#333"},{"offset":0.345,"color":"#3330"},{"offset":0.35,"color":"#333"},{"offset":0.355,"color":"#3330"},
{"offset":0.36,"color":"#333"},{"offset":0.365,"color":"#3330"},{"offset":0.37,"color":"#333"},{"offset":0.375,"color":"#3330"},
{"offset":0.38,"color":"#333"},{"offset":0.385,"color":"#3330"},{"offset":0.39,"color":"#333"},{"offset":0.395,"color":"#3330"},
{"offset":0.4,"color":"#333"},{"offset":0.405,"color":"#3330"},{"offset":0.41,"color":"#333"},{"offset":0.415,"color":"#3330"},
{"offset":0.42,"color":"#333"},{"offset":0.425,"color":"#3330"},{"offset":0.43,"color":"#333"},{"offset":0.435,"color":"#3330"},
{"offset":0.44,"color":"#333"},{"offset":0.445,"color":"#3330"},{"offset":0.45,"color":"#333"},{"offset":0.455,"color":"#3330"},
{"offset":0.46,"color":"#333"},{"offset":0.465,"color":"#3330"},{"offset":0.47,"color":"#333"},{"offset":0.475,"color":"#3330"},
{"offset":0.48,"color":"#333"},{"offset":0.485,"color":"#3330"},{"offset":0.49,"color":"#333"},{"offset":0.495,"color":"#3330"},
{"offset":0.5,"color":"#333"},{"offset":0.505,"color":"#3330"},{"offset":0.51,"color":"#333"},{"offset":0.515,"color":"#3330"},
{"offset":0.52,"color":"#333"},{"offset":0.525,"color":"#3330"},{"offset":0.53,"color":"#333"},{"offset":0.535,"color":"#3330"},
{"offset":0.54,"color":"#333"},{"offset":0.545,"color":"#3330"},{"offset":0.55,"color":"#333"},{"offset":0.555,"color":"#3330"},
{"offset":0.56,"color":"#333"},{"offset":0.565,"color":"#3330"},{"offset":0.57,"color":"#333"},{"offset":0.575,"color":"#3330"},
{"offset":0.58,"color":"#333"},{"offset":0.585,"color":"#3330"},{"offset":0.59,"color":"#333"},{"offset":0.595,"color":"#3330"},
{"offset":0.6,"color":"#333"},{"offset":0.605,"color":"#3330"},{"offset":0.61,"color":"#333"},{"offset":0.615,"color":"#3330"},
{"offset":0.62,"color":"#333"},{"offset":0.625,"color":"#3330"},{"offset":0.63,"color":"#333"},{"offset":0.635,"color":"#3330"},
{"offset":0.64,"color":"#333"},{"offset":0.645,"color":"#3330"},{"offset":0.65,"color":"#333"},{"offset":0.655,"color":"#3330"},
{"offset":0.66,"color":"#333"},{"offset":0.665,"color":"#3330"},{"offset":0.67,"color":"#333"},{"offset":0.675,"color":"#3330"},
{"offset":0.68,"color":"#333"},{"offset":0.685,"color":"#3330"},{"offset":0.69,"color":"#333"},{"offset":0.695,"color":"#3330"},
{"offset":0.7,"color":"#333"},{"offset":0.705,"color":"#3330"},{"offset":0.71,"color":"#333"},{"offset":0.715,"color":"#3330"},
{"offset":0.72,"color":"#333"},{"offset":0.725,"color":"#3330"},{"offset":0.73,"color":"#333"},{"offset":0.735,"color":"#3330"},
{"offset":0.74,"color":"#333"},{"offset":0.745,"color":"#3330"},{"offset":0.75,"color":"#333"},{"offset":0.755,"color":"#3330"},
{"offset":0.76,"color":"#333"},{"offset":0.765,"color":"#3330"},{"offset":0.77,"color":"#333"},{"offset":0.775,"color":"#3330"},
{"offset":0.78,"color":"#333"},{"offset":0.785,"color":"#3330"},{"offset":0.79,"color":"#333"},{"offset":0.795,"color":"#3330"},
{"offset":0.8,"color":"#333"},{"offset":0.805,"color":"#3330"},{"offset":0.81,"color":"#333"},{"offset":0.815,"color":"#3330"},
{"offset":0.82,"color":"#333"},{"offset":0.825,"color":"#3330"},{"offset":0.83,"color":"#333"},{"offset":0.835,"color":"#3330"},
{"offset":0.84,"color":"#333"},{"offset":0.845,"color":"#3330"},{"offset":0.85,"color":"#333"},{"offset":0.855,"color":"#3330"},
{"offset":0.86,"color":"#333"},{"offset":0.865,"color":"#3330"},{"offset":0.87,"color":"#333"},{"offset":0.875,"color":"#3330"},
{"offset":0.88,"color":"#333"},{"offset":0.885,"color":"#3330"},{"offset":0.89,"color":"#333"},{"offset":0.895,"color":"#3330"},
{"offset":0.9,"color":"#333"},{"offset":0.905,"color":"#3330"},{"offset":0.91,"color":"#333"},{"offset":0.915,"color":"#3330"},
{"offset":0.92,"color":"#333"},{"offset":0.925,"color":"#3330"},{"offset":0.93,"color":"#333"},{"offset":0.935,"color":"#3330"},
{"offset":0.94,"color":"#333"},{"offset":0.945,"color":"#3330"},{"offset":0.95,"color":"#333"}
     ]}},
     "encoding": {"x": {"field": "freq", "type": "quantitative"}, "y": {"field": "lo", "type": "quantitative"}, "y2": {"field": "hi"}}},
    {"data": {"name": "bands"}, "transform": [{"filter": "datum.group === '0-2 h'"}],
     "mark": {"type": "area", "opacity": 1, "fill": {"gradient": "linear", "x1": 1, "y1": 0, "x2": -0.69, "y2": 0.804, "stops": [
{"offset":0,"color":"#111"},{"offset":0.005,"color":"#1113"},{"offset":0.01,"color":"#111"},{"offset":0.015,"color":"#1113"},
{"offset":0.02,"color":"#111"},{"offset":0.025,"color":"#1113"},{"offset":0.03,"color":"#111"},{"offset":0.035,"color":"#1113"},
{"offset":0.04,"color":"#111"},{"offset":0.045,"color":"#1113"},{"offset":0.05,"color":"#111"},{"offset":0.055,"color":"#1113"},
{"offset":0.06,"color":"#111"},{"offset":0.065,"color":"#1113"},{"offset":0.07,"color":"#111"},{"offset":0.075,"color":"#1113"},
{"offset":0.08,"color":"#111"},{"offset":0.085,"color":"#1113"},{"offset":0.09,"color":"#111"},{"offset":0.095,"color":"#1113"},
{"offset":0.1,"color":"#111"},{"offset":0.105,"color":"#1113"},{"offset":0.11,"color":"#111"},{"offset":0.115,"color":"#1113"},
{"offset":0.12,"color":"#111"},{"offset":0.125,"color":"#1113"},{"offset":0.13,"color":"#111"},{"offset":0.135,"color":"#1113"},
{"offset":0.14,"color":"#111"},{"offset":0.145,"color":"#1113"},{"offset":0.15,"color":"#111"},{"offset":0.155,"color":"#1113"},
{"offset":0.16,"color":"#111"},{"offset":0.165,"color":"#1113"},{"offset":0.17,"color":"#111"},{"offset":0.175,"color":"#1113"},
{"offset":0.18,"color":"#111"},{"offset":0.185,"color":"#1113"},{"offset":0.19,"color":"#111"},{"offset":0.195,"color":"#1113"},
{"offset":0.2,"color":"#111"},{"offset":0.205,"color":"#1113"},{"offset":0.21,"color":"#111"},{"offset":0.215,"color":"#1113"},
{"offset":0.22,"color":"#111"},{"offset":0.225,"color":"#1113"},{"offset":0.23,"color":"#111"},{"offset":0.235,"color":"#1113"},
{"offset":0.24,"color":"#111"},{"offset":0.245,"color":"#1113"},{"offset":0.25,"color":"#111"},{"offset":0.255,"color":"#1113"},
{"offset":0.26,"color":"#111"},{"offset":0.265,"color":"#1113"},{"offset":0.27,"color":"#111"},{"offset":0.275,"color":"#1113"},
{"offset":0.28,"color":"#111"},{"offset":0.285,"color":"#1113"},{"offset":0.29,"color":"#111"},{"offset":0.295,"color":"#1113"},
{"offset":0.3,"color":"#111"},{"offset":0.305,"color":"#1113"},{"offset":0.31,"color":"#111"},{"offset":0.315,"color":"#1113"},
{"offset":0.32,"color":"#111"},{"offset":0.325,"color":"#1113"},{"offset":0.33,"color":"#111"},{"offset":0.335,"color":"#1113"},
{"offset":0.34,"color":"#111"},{"offset":0.345,"color":"#1113"},{"offset":0.35,"color":"#111"},{"offset":0.355,"color":"#1113"},
{"offset":0.36,"color":"#111"},{"offset":0.365,"color":"#1113"},{"offset":0.37,"color":"#111"},{"offset":0.375,"color":"#1113"},
{"offset":0.38,"color":"#111"},{"offset":0.385,"color":"#1113"},{"offset":0.39,"color":"#111"},{"offset":0.395,"color":"#1113"},
{"offset":0.4,"color":"#111"},{"offset":0.405,"color":"#1113"},{"offset":0.41,"color":"#111"},{"offset":0.415,"color":"#1113"},
{"offset":0.42,"color":"#111"},{"offset":0.425,"color":"#1113"},{"offset":0.43,"color":"#111"},{"offset":0.435,"color":"#1113"},
{"offset":0.44,"color":"#111"},{"offset":0.445,"color":"#1113"},{"offset":0.45,"color":"#111"},{"offset":0.455,"color":"#1113"},
{"offset":0.46,"color":"#111"},{"offset":0.465,"color":"#1113"},{"offset":0.47,"color":"#111"},{"offset":0.475,"color":"#1113"},
{"offset":0.48,"color":"#111"},{"offset":0.485,"color":"#1113"},{"offset":0.49,"color":"#111"},{"offset":0.495,"color":"#1113"},
{"offset":0.5,"color":"#111"},{"offset":0.505,"color":"#1113"},{"offset":0.51,"color":"#111"},{"offset":0.515,"color":"#1113"},
{"offset":0.52,"color":"#111"},{"offset":0.525,"color":"#1113"},{"offset":0.53,"color":"#111"},{"offset":0.535,"color":"#1113"},
{"offset":0.54,"color":"#111"},{"offset":0.545,"color":"#1113"},{"offset":0.55,"color":"#111"},{"offset":0.555,"color":"#1113"},
{"offset":0.56,"color":"#111"},{"offset":0.565,"color":"#1113"},{"offset":0.57,"color":"#111"},{"offset":0.575,"color":"#1113"},
{"offset":0.58,"color":"#111"},{"offset":0.585,"color":"#1113"},{"offset":0.59,"color":"#111"},{"offset":0.595,"color":"#1113"},
{"offset":0.6,"color":"#111"},{"offset":0.605,"color":"#1113"},{"offset":0.61,"color":"#111"},{"offset":0.615,"color":"#1113"},
{"offset":0.62,"color":"#111"},{"offset":0.625,"color":"#1113"},{"offset":0.63,"color":"#111"},{"offset":0.635,"color":"#1113"},
{"offset":0.64,"color":"#111"},{"offset":0.645,"color":"#1113"},{"offset":0.65,"color":"#111"},{"offset":0.655,"color":"#1113"},
{"offset":0.66,"color":"#111"},{"offset":0.665,"color":"#1113"},{"offset":0.67,"color":"#111"},{"offset":0.675,"color":"#1113"},
{"offset":0.68,"color":"#111"},{"offset":0.685,"color":"#1113"},{"offset":0.69,"color":"#111"},{"offset":0.695,"color":"#1113"},
{"offset":0.7,"color":"#111"},{"offset":0.705,"color":"#1113"},{"offset":0.71,"color":"#111"},{"offset":0.715,"color":"#1113"},
{"offset":0.72,"color":"#111"}
     ]}},
     "encoding": {"x": {"field": "freq", "type": "quantitative"}, "y": {"field": "lo", "type": "quantitative"}, "y2": {"field": "hi"}}},
    {"data": {"name": "bands"}, "transform": [{"filter": "datum.group === '1 w'"}],
     "mark": {"type": "line", "color": "#111", "strokeWidth": 1.3, "strokeDash": [5, 3]},
     "encoding": {"x": {"field": "freq", "type": "quantitative"}, "y": {"field": "mean", "type": "quantitative"}}},
    {"data": {"name": "bands"}, "transform": [{"filter": "datum.group === '48 h'"}],
     "mark": {"type": "line", "color": "#111", "strokeWidth": 1.2, "strokeDash": [3, 3]},
     "encoding": {"x": {"field": "freq", "type": "quantitative"}, "y": {"field": "mean", "type": "quantitative"}}},
    {"data": {"name": "bands"}, "transform": [{"filter": "datum.group === '24 h'"}],
     "mark": {"type": "line", "color": "#111", "strokeWidth": 1.5, "strokeDash": [6, 3]},
     "encoding": {"x": {"field": "freq", "type": "quantitative"}, "y": {"field": "mean", "type": "quantitative"}}},
    {"data": {"name": "bands"}, "transform": [{"filter": "datum.group === '0-2 h'"}],
     "mark": {"type": "line", "color": "#111", "strokeWidth": 2},
     "encoding": {"x": {"field": "freq", "type": "quantitative"}, "y": {"field": "mean", "type": "quantitative"}}},
    {"data": {"values": [{}]}, "mark": {"type": "rule", "color": "#666", "strokeWidth": 1},
     "encoding": {"x": {"datum": 0, "type": "quantitative"}, "y": {"datum": -50, "type": "quantitative"}, "y2": {"datum": 50}}},
    {"data": {"values": [{}]}, "mark": {"type": "rect", "fill": "white", "stroke": "#666", "strokeWidth": 1},
     "encoding": {"x": {"datum": 682, "type": "quantitative"}, "x2": {"datum": 11894}, "y": {"datum": 47.7, "type": "quantitative"}, "y2": {"datum": 22.4}}},
    {"data": {"values": [{}]}, "mark": {"type": "rect", "fill": {"gradient": "linear", "x1": 1, "y1": 0, "x2": 0.452, "y2": 1.2455, "stops": [
{"offset":0,"color":"#111"},{"offset":0.05,"color":"#1113"},{"offset":0.1,"color":"#111"},{"offset":0.15,"color":"#1113"},{"offset":0.2,"color":"#111"},{"offset":0.25,"color":"#1113"},{"offset":0.3,"color":"#111"},{"offset":0.35,"color":"#1113"},{"offset":0.4,"color":"#111"},{"offset":0.45,"color":"#1113"},{"offset":0.5,"color":"#111"},{"offset":0.55,"color":"#1113"},{"offset":0.6,"color":"#111"},{"offset":0.65,"color":"#1113"},{"offset":0.7,"color":"#111"},{"offset":0.75,"color":"#1113"},{"offset":0.8,"color":"#111"},{"offset":0.85,"color":"#1113"},{"offset":0.9,"color":"#111"},{"offset":0.95,"color":"#1113"},{"offset":1,"color":"#111"}
     ]}},
     "encoding": {"x": {"datum": 985, "type": "quantitative"}, "x2": {"datum": 3409}, "y": {"datum": 46.5, "type": "quantitative"}, "y2": {"datum": 41.5}}},
    {"data": {"values": [{}]}, "mark": {"type": "rect", "fill": {"gradient": "linear", "x1": 0, "y1": 0, "x2": 0.519, "y2": 1.2677, "stops": [
{"offset":0,"color":"#333"},{"offset":0.05,"color":"#3330"},{"offset":0.1,"color":"#333"},{"offset":0.15,"color":"#3330"},{"offset":0.2,"color":"#333"},{"offset":0.25,"color":"#3330"},{"offset":0.3,"color":"#333"},{"offset":0.35,"color":"#3330"},{"offset":0.4,"color":"#333"},{"offset":0.45,"color":"#3330"},{"offset":0.5,"color":"#333"},{"offset":0.55,"color":"#3330"},{"offset":0.6,"color":"#333"},{"offset":0.65,"color":"#3330"},{"offset":0.7,"color":"#333"},{"offset":0.75,"color":"#3330"},{"offset":0.8,"color":"#333"},{"offset":0.85,"color":"#3330"},{"offset":0.9,"color":"#333"},{"offset":0.95,"color":"#3330"},{"offset":1,"color":"#333"}
     ]}},
     "encoding": {"x": {"datum": 985, "type": "quantitative"}, "x2": {"datum": 3409}, "y": {"datum": 40.5, "type": "quantitative"}, "y2": {"datum": 35.5}}},
    {"data": {"values": [{}]}, "mark": {"type": "rect", "fill": {"gradient": "linear", "x1": 0, "y1": 0, "x2": 1.2796, "y2": 0.3973, "stops": [
{"offset":0,"color":"#222"},{"offset":0.03,"color":"#2220"},{"offset":0.07,"color":"#2220"},{"offset":0.1,"color":"#222"},{"offset":0.13,"color":"#2220"},{"offset":0.17,"color":"#2220"},{"offset":0.2,"color":"#222"},{"offset":0.23,"color":"#2220"},{"offset":0.27,"color":"#2220"},{"offset":0.3,"color":"#222"},{"offset":0.33,"color":"#2220"},{"offset":0.37,"color":"#2220"},{"offset":0.4,"color":"#222"},{"offset":0.43,"color":"#2220"},{"offset":0.47,"color":"#2220"},{"offset":0.5,"color":"#222"},{"offset":0.53,"color":"#2220"},{"offset":0.57,"color":"#2220"},{"offset":0.6,"color":"#222"},{"offset":0.63,"color":"#2220"},{"offset":0.67,"color":"#2220"},{"offset":0.7,"color":"#222"},{"offset":0.73,"color":"#2220"},{"offset":0.77,"color":"#2220"},{"offset":0.8,"color":"#222"},{"offset":0.83,"color":"#2220"},{"offset":0.87,"color":"#2220"},{"offset":0.9,"color":"#222"},{"offset":0.93,"color":"#2220"},{"offset":0.97,"color":"#2220"},{"offset":1,"color":"#222"}
     ]}},
     "encoding": {"x": {"datum": 985, "type": "quantitative"}, "x2": {"datum": 3409}, "y": {"datum": 34.5, "type": "quantitative"}, "y2": {"datum": 29.5}}},
    {"data": {"values": [{}]}, "mark": {"type": "rect", "fill": {"gradient": "linear", "x1": 0, "y1": 1, "x2": 1.2844, "y2": 0.5481, "stops": [
{"offset":0,"color":"#222"},{"offset":0.03,"color":"#2220"},{"offset":0.07,"color":"#2220"},{"offset":0.1,"color":"#222"},{"offset":0.13,"color":"#2220"},{"offset":0.17,"color":"#2220"},{"offset":0.2,"color":"#222"},{"offset":0.23,"color":"#2220"},{"offset":0.27,"color":"#2220"},{"offset":0.3,"color":"#222"},{"offset":0.33,"color":"#2220"},{"offset":0.37,"color":"#2220"},{"offset":0.4,"color":"#222"},{"offset":0.43,"color":"#2220"},{"offset":0.47,"color":"#2220"},{"offset":0.5,"color":"#222"},{"offset":0.53,"color":"#2220"},{"offset":0.57,"color":"#2220"},{"offset":0.6,"color":"#222"},{"offset":0.63,"color":"#2220"},{"offset":0.67,"color":"#2220"},{"offset":0.7,"color":"#222"},{"offset":0.73,"color":"#2220"},{"offset":0.77,"color":"#2220"},{"offset":0.8,"color":"#222"},{"offset":0.83,"color":"#2220"},{"offset":0.87,"color":"#2220"},{"offset":0.9,"color":"#222"},{"offset":0.93,"color":"#2220"},{"offset":0.97,"color":"#2220"},{"offset":1,"color":"#222"}
     ]}},
     "encoding": {"x": {"datum": 985, "type": "quantitative"}, "x2": {"datum": 3409}, "y": {"datum": 28.5, "type": "quantitative"}, "y2": {"datum": 23.5}}},
    {"data": {"values": [{}]}, "mark": {"type": "rule", "color": "#111", "strokeWidth": 2},
     "encoding": {"x": {"datum": 985, "type": "quantitative"}, "x2": {"datum": 3409}, "y": {"datum": 44, "type": "quantitative"}}},
    {"data": {"values": [{}]}, "mark": {"type": "rule", "color": "#111", "strokeWidth": 1.5, "strokeDash": [6, 3]},
     "encoding": {"x": {"datum": 985, "type": "quantitative"}, "x2": {"datum": 3409}, "y": {"datum": 38, "type": "quantitative"}}},
    {"data": {"values": [{}]}, "mark": {"type": "rule", "color": "#111", "strokeWidth": 1.2, "strokeDash": [3, 3]},
     "encoding": {"x": {"datum": 985, "type": "quantitative"}, "x2": {"datum": 3409}, "y": {"datum": 32, "type": "quantitative"}}},
    {"data": {"values": [{}]}, "mark": {"type": "rule", "color": "#111", "strokeWidth": 1.3, "strokeDash": [5, 3]},
     "encoding": {"x": {"datum": 985, "type": "quantitative"}, "x2": {"datum": 3409}, "y": {"datum": 26, "type": "quantitative"}}},
    {"data": {"values": [{"label": "0-2 h (n=25)", "row": 44}, {"label": "24 h (n=6)", "row": 38}, {"label": "48 h (n=6)", "row": 32}, {"label": "1 w (n=6)", "row": 26}]},
     "mark": {"type": "text", "fontSize": 19, "color": "#111", "align": "left", "baseline": "middle"},
     "encoding": {"x": {"datum": 3600, "type": "quantitative"}, "y": {"field": "row", "type": "quantitative"}, "text": {"field": "label"}}},
    {"data": {"values": [{}]}, "mark": {"type": "text", "fontSize": 20, "color": "#111", "align": "center", "baseline": "middle"},
     "encoding": {"x": {"datum": -3409, "type": "quantitative"}, "y": {"datum": -56.9, "type": "quantitative"}, "text": {"value": "A"}}}
  ]
},
{
  "spacing": 15,
  "resolve": {"scale": {"strokeDash": "independent"}, "legend": {"strokeDash": "independent"}},
  "vconcat": [
    {
      "width": 463, "height": 194,
      "layer": [
        {"data": {"name": "abr"}, "transform": [{"filter": "datum.panel === 'B'"}],
         "mark": {"type": "line", "color": "#111", "strokeWidth": 2.5},
         "encoding": {
           "x": {"field": "freq", "type": "quantitative", "scale": {"domain": [0, 40000], "nice": false},
                 "axis": {"values": [0, 10000, 20000, 30000, 40000], "format": "d", "title": null, "labelPadding": 13}},
           "y": {"field": "db", "type": "quantitative", "scale": {"domain": [15.4, 105.2], "nice": false, "zero": false},
                 "axis": {"values": [20, 40, 60, 80, 100], "title": "dB SPL", "titleFontSize": 21, "labelPadding": 14, "titleX": -53, "titleBaseline": "alphabetic"}},
           "strokeDash": {"field": "series", "type": "nominal",
                 "scale": {"domain": ["baseline", "0-2 h", "48 h"], "range": [[1, 0], [9, 5], [2, 2]]},
                 "legend": {"title": null, "orient": "none", "legendX": 355.7, "legendY": 108.7, "symbolType": "stroke", "symbolSize": 576, "symbolStrokeWidth": 2.5, "symbolStrokeColor": "#111", "labelFontSize": 19, "labelColor": "#111", "labelOffset": 2, "padding": 3, "rowPadding": 0, "strokeColor": "#555", "fillColor": "white"}}
         }},
        {"data": {"values": [{}]}, "mark": {"type": "text", "fontSize": 21, "color": "#333", "align": "left", "baseline": "middle"},
         "encoding": {"x": {"datum": 2200, "type": "quantitative"}, "y": {"datum": 100, "type": "quantitative"}, "text": {"value": "48 h experiment - GP134"}}},
        {"data": {"values": [{}]}, "mark": {"type": "text", "fontSize": 17, "color": "#111", "align": "center", "baseline": "middle"},
         "encoding": {"x": {"datum": -1150, "type": "quantitative"}, "y": {"datum": 10.6, "type": "quantitative"}, "text": {"value": "B"}}}
      ]
    },
    {
      "width": 463, "height": 194,
      "layer": [
        {"data": {"name": "abr"}, "transform": [{"filter": "datum.panel === 'C'"}],
         "mark": {"type": "line", "color": "#111", "strokeWidth": 2.5},
         "encoding": {
           "x": {"field": "freq", "type": "quantitative", "scale": {"domain": [0, 40000], "nice": false},
                 "axis": {"values": [0, 10000, 20000, 30000, 40000], "format": "d", "title": "Frequency (Hz)", "labelPadding": 15, "titleBaseline": "alphabetic", "titleY": 50}},
           "y": {"field": "db", "type": "quantitative", "scale": {"domain": [15.4, 105.2], "nice": false, "zero": false},
                 "axis": {"values": [20, 40, 60, 80, 100], "title": "dB SPL", "titleFontSize": 21, "labelPadding": 14, "titleX": -53, "titleBaseline": "alphabetic"}},
           "strokeDash": {"field": "series", "type": "nominal",
                 "scale": {"domain": ["baseline", "0-2 h", "1 wk"], "range": [[1, 0], [9, 5], [2, 2]]},
                 "legend": {"title": null, "orient": "none", "legendX": 355, "legendY": 107.3, "symbolType": "stroke", "symbolSize": 576, "symbolStrokeWidth": 2.5, "symbolStrokeColor": "#111", "labelFontSize": 19, "labelColor": "#111", "labelOffset": 2, "padding": 3, "rowPadding": 0, "strokeColor": "#555", "fillColor": "white"}}
         }},
        {"data": {"values": [{}]}, "mark": {"type": "text", "fontSize": 21, "color": "#333", "align": "left", "baseline": "middle"},
         "encoding": {"x": {"datum": 2200, "type": "quantitative"}, "y": {"datum": 93.6, "type": "quantitative"}, "text": {"value": "1 wk experiment - GP138"}}},
        {"data": {"values": [{}]}, "mark": {"type": "text", "fontSize": 17, "color": "#111", "align": "center", "baseline": "middle"},
         "encoding": {"x": {"datum": -1150, "type": "quantitative"}, "y": {"datum": 3.35, "type": "quantitative"}, "text": {"value": "C"}}}
      ]
    }
  ]
}
]
}
